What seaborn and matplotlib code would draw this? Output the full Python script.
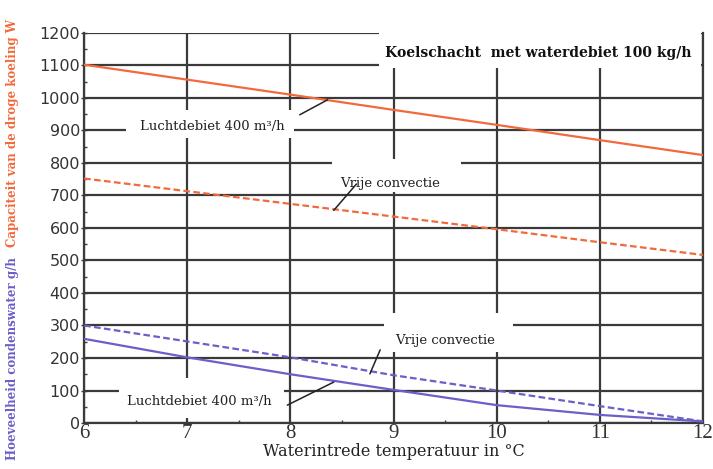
import numpy as np
import pandas as pd
import matplotlib
matplotlib.use('Agg')
import matplotlib.pyplot as plt
from matplotlib.patches import Rectangle
import seaborn as sns

# Data
temperature = [6, 7, 8, 9, 10, 11, 12]
capacity_air = [1102, 1056, 1010, 963, 917, 870, 824]        # Luchtdebiet 400 m3/h (W)
capacity_free = [752, 713, 674, 635, 596, 556, 517]          # Vrije convectie (W)
condensate_free = [300, 251, 202, 147, 100, 52, 5]           # Vrije convectie (g/h)
condensate_air = [259, 202, 150, 102, 55, 25, 5]             # Luchtdebiet 400 m3/h (g/h)
y_ticks = list(range(0, 1300, 100))
x_ticks = temperature

orange = '#f26a3c'
purple = '#6b5fc8'
grid_col = '#3a3a3a'

df = pd.DataFrame({
    'temp': temperature * 4,
    'value': capacity_air + capacity_free + condensate_free + condensate_air,
    'series': (['cap_air'] * 7 + ['cap_free'] * 7 + ['cond_free'] * 7 + ['cond_air'] * 7),
})

sns.set_theme(style='white')
plt.rcParams['font.family'] = ['DejaVu Serif', 'DejaVu Sans']

fig = plt.figure(figsize=(7.13, 4.69), dpi=100)
ax = fig.add_axes([0.118, 0.098, 0.868, 0.832])

styles = {
    'cap_air': (orange, '-'),
    'cap_free': (orange, (0, (3, 1.5))),
    'cond_free': (purple, (0, (3, 1.5))),
    'cond_air': (purple, '-'),
}
for name, (col, ls) in styles.items():
    sub = df[df['series'] == name]
    sns.lineplot(data=sub, x='temp', y='value', ax=ax, color=col, linestyle=ls,
                 linewidth=1.6, legend=False, zorder=3)

ax.set_xlim(6, 12)
ax.set_ylim(0, 1200)
ax.set_xticks(x_ticks)
ax.set_yticks(y_ticks)
ax.set_xticks(np.arange(6, 12.01, 0.5), minor=True)
ax.set_yticks(np.arange(0, 1201, 50), minor=True)
ax.grid(True, which='major', color=grid_col, linewidth=1.6)
ax.set_axisbelow(True)

for side in ['left', 'bottom', 'right']:
    ax.spines[side].set_visible(True)
    ax.spines[side].set_color(grid_col)
    ax.spines[side].set_linewidth(1.6)
ax.spines['top'].set_visible(False)

ax.tick_params(axis='y', which='major', direction='inout', length=4, width=1,
               color=grid_col, left=True, labelsize=11.5, pad=1)
ax.tick_params(axis='y', which='minor', direction='in', length=2, width=1,
               color=grid_col, left=True)
ax.tick_params(axis='x', which='major', direction='in', length=0, labelsize=15,
               pad=1, bottom=True)
ax.tick_params(axis='x', which='minor', direction='in', length=2, width=1,
               color=grid_col, bottom=True)
for lab in ax.get_yticklabels():
    lab.set_family('DejaVu Sans')
    lab.set_color('#333333')
for lab in ax.get_xticklabels():
    lab.set_family('Liberation Serif')
    lab.set_color('#333333')

ax.set_xlabel('Waterintrede temperatuur in °C', fontsize=11.5, color='#222222', labelpad=0)
ax.set_ylabel('')

# white masks that break the grid behind the labels
masks = [
    (8.86, 1092, 3.12, 140),   # title
    (6.41, 876, 1.62, 86),     # Luchtdebiet (upper)
    (8.40, 711, 1.25, 100),    # Vrije convectie (upper)
    (8.91, 218, 1.25, 120),    # Vrije convectie (lower)
    (6.34, 15, 1.60, 123),     # Luchtdebiet (lower)
]
for x0, y0, w, h in masks:
    ax.add_patch(Rectangle((x0, y0), w, h, facecolor='white', edgecolor='none',
                           zorder=1, clip_on=True))

txt = dict(fontsize=9.5, color='#222222', ha='center', va='center', zorder=4)
ax.text(10.40, 1138, 'Koelschacht  met waterdebiet 100 kg/h', fontsize=10,
        fontweight='bold', color='#111111', ha='center', va='center', zorder=4)
ax.text(7.24, 911, 'Luchtdebiet 400 m³/h', **txt)
ax.text(8.97, 738, 'Vrije convectie', **txt)
ax.text(9.50, 255, 'Vrije convectie', **txt)
ax.text(7.12, 65, 'Luchtdebiet 400 m³/h', **txt)

# leader lines
leaders = [
    ((8.09, 948), (8.36, 994)),
    ((8.64, 735), (8.42, 654)),
    ((8.87, 225), (8.77, 151)),
    ((7.97, 55), (8.42, 126)),
]
for (xa, ya), (xb, yb) in leaders:
    ax.plot([xa, xb], [ya, yb], color='#222222', linewidth=1.1, zorder=4)

fig.text(0.018, 0.716, 'Capaciteit van de droge koeling W', rotation=90, color=orange,
         fontsize=8.5, fontweight='bold', ha='center', va='center')
fig.text(0.018, 0.236, 'Hoeveelheid condenswater g/h', rotation=90, color=purple,
         fontsize=8.5, fontweight='bold', ha='center', va='center')

fig.savefig('out.png', dpi=100, facecolor='white')
